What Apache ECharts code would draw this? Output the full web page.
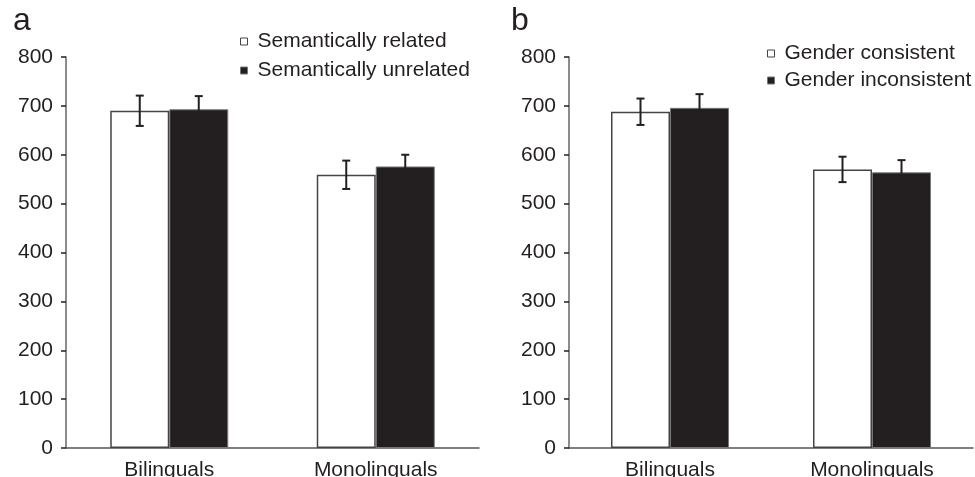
<!DOCTYPE html>
<html>
<head>
<meta charset="utf-8">
<title>Picture naming latencies</title>
<script src="https://cdn.jsdelivr.net/npm/echarts@6/dist/echarts.min.js"></script>
<style>
  html, body { margin: 0; padding: 0; background: #fff; }
  #chart { width: 975px; height: 477px; }
</style>
</head>
<body>
<div id="chart"></div>
<script>
// data
const categories = ['Bilinguals', 'Monolinguals']
const yTicks = [0, 100, 200, 300, 400, 500, 600, 700, 800]

const semRelated = [690, 559]
const semRelatedErr = [31, 29]
const semUnrelated = [693, 576]
const semUnrelatedErr = [27, 24]

const genderConsistent = [688, 570]
const genderConsistentErr = [27, 26]
const genderInconsistent = [696, 564]
const genderInconsistentErr = [28, 25]

const ink = '#231f20'
const font = "'Liberation Sans', Arial, sans-serif"
const barW = 59

const whiteBar = { color: '#fff', borderColor: '#444', borderWidth: 1.5 }
const blackBar = { color: ink, borderColor: '#777', borderWidth: 1 }

function xAxisFor (grid) {
  return {
    type: 'category',
    gridIndex: grid,
    data: categories,
    axisLine: { lineStyle: { color: '#555', width: 1.5 } },
    axisTick: { length: 4, lineStyle: { color: ink, width: 1.5 } },
    axisLabel: { color: ink, fontSize: 21, fontFamily: font, margin: 12 }
  }
}

function yAxisFor (grid) {
  return {
    type: 'value',
    gridIndex: grid,
    min: yTicks[0],
    max: yTicks[yTicks.length - 1],
    interval: 100,
    axisLine: { show: true, lineStyle: { color: '#666', width: 1.5 } },
    axisTick: { show: true, length: 5, lineStyle: { color: ink, width: 1.5 } },
    splitLine: { show: false },
    axisLabel: { color: ink, fontSize: 21, fontFamily: font, margin: 13 }
  }
}

function errorBars (grid, means, errs, offset) {
  return {
    type: 'custom',
    xAxisIndex: grid,
    yAxisIndex: grid,
    z: 10,
    silent: true,
    encode: { x: 0, y: 1 },
    data: means.map((m, i) => [i, m, errs[i]]),
    renderItem (params, api) {
      const i = api.value(0)
      const m = api.value(1)
      const e = api.value(2)
      const hi = api.coord([i, m + e])
      const lo = api.coord([i, m - e])
      const x = hi[0] + offset
      const style = { stroke: ink, lineWidth: 2 }
      return {
        type: 'group',
        children: [
          { type: 'line', shape: { x1: x, y1: hi[1], x2: x, y2: lo[1] }, style },
          { type: 'line', shape: { x1: x - 4, y1: hi[1], x2: x + 4, y2: hi[1] }, style },
          { type: 'line', shape: { x1: x - 4, y1: lo[1], x2: x + 4, y2: lo[1] }, style }
        ]
      }
    }
  }
}

function bars (grid, name, values, style) {
  return {
    name: name,
    type: 'bar',
    xAxisIndex: grid,
    yAxisIndex: grid,
    data: values,
    barWidth: barW,
    barGap: '0%',
    itemStyle: style
  }
}

function legendFor (names, left, top, gap) {
  return {
    data: names,
    orient: 'vertical',
    left: left,
    top: top,
    padding: 0,
    icon: 'rect',
    itemWidth: 7,
    itemHeight: 7,
    itemGap: gap,
    selectedMode: false,
    itemStyle: { borderWidth: 1 },
    textStyle: { color: ink, fontSize: 21, fontFamily: font, padding: [0, 0, 0, 5] }
  }
}

const chart = echarts.init(document.getElementById('chart'))
const options = {
  animation: false,
  title: [
    { text: 'a', left: 8, top: 0, textStyle: { color: ink, fontSize: 32, fontWeight: 'normal', fontFamily: font } },
    { text: 'b', left: 506, top: 0, textStyle: { color: ink, fontSize: 32, fontWeight: 'normal', fontFamily: font } }
  ],
  legend: [
    legendFor(['Semantically related', 'Semantically unrelated'], 240, 31, 8),
    legendFor(['Gender consistent', 'Gender inconsistent'], 767, 43, 6)
  ],
  grid: [
    { left: 66, top: 57, width: 413, height: 391, outerBoundsMode: 'none' },
    { left: 569, top: 57, width: 404, height: 391, outerBoundsMode: 'none' }
  ],
  xAxis: [xAxisFor(0), xAxisFor(1)],
  yAxis: [yAxisFor(0), yAxisFor(1)],
  series: [
    bars(0, 'Semantically related', semRelated, whiteBar),
    bars(0, 'Semantically unrelated', semUnrelated, blackBar),
    bars(1, 'Gender consistent', genderConsistent, whiteBar),
    bars(1, 'Gender inconsistent', genderInconsistent, blackBar),
    errorBars(0, semRelated, semRelatedErr, -barW / 2),
    errorBars(0, semUnrelated, semUnrelatedErr, barW / 2),
    errorBars(1, genderConsistent, genderConsistentErr, -barW / 2),
    errorBars(1, genderInconsistent, genderInconsistentErr, barW / 2)
  ]
}
chart.setOption(options)
</script>
</body>
</html>
